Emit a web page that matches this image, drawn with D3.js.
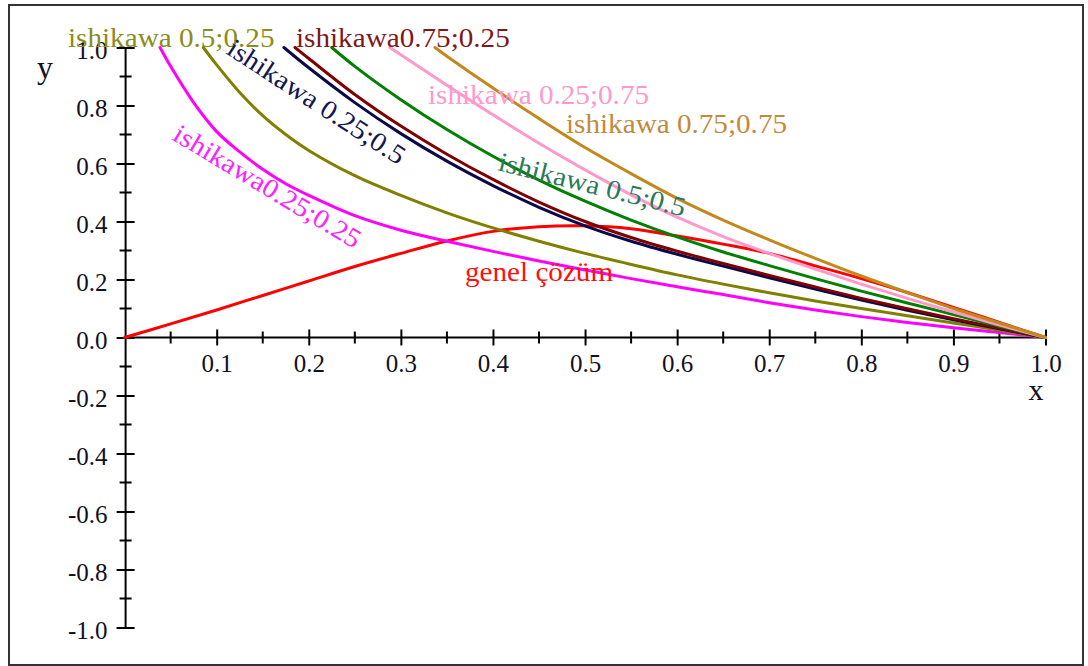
<!DOCTYPE html>
<html>
<head>
<meta charset="utf-8">
<script src="https://cdn.jsdelivr.net/npm/d3@7"></script>
<style>
  html, body { margin: 0; padding: 0; background: #fff; }
  svg { display: block; }
  text { font-family: "Liberation Serif", "Times New Roman", serif; }
</style>
</head>
<body>
<svg id="chart" width="1088" height="666"></svg>
<script>
// ---- data -------------------------------------------------------------
// genel çözüm
const genelX = [0, 0.05, 0.1, 0.15, 0.2, 0.25, 0.3, 0.35, 0.4, 0.45, 0.5, 0.55, 0.6, 0.65, 0.7, 0.75, 0.8, 0.85, 0.9, 0.95, 1.0];
const genelY = [0, 0.047, 0.095, 0.145, 0.195, 0.245, 0.29, 0.333, 0.366, 0.382, 0.385, 0.375, 0.35, 0.322, 0.29, 0.247, 0.203, 0.155, 0.104, 0.052, 0];

// ishikawa 0.25;0.25
const ishi2525X = [0.0385, 0.05, 0.075, 0.1, 0.125, 0.15, 0.175, 0.2, 0.25, 0.3, 0.35, 0.4, 0.45, 0.5, 0.55, 0.6, 0.65, 0.7, 0.75, 0.8, 0.85, 0.9, 0.95, 1.0];
const ishi2525Y = [1.0, 0.935, 0.81, 0.71, 0.64, 0.58, 0.53, 0.49, 0.42, 0.37, 0.332, 0.297, 0.264, 0.233, 0.203, 0.175, 0.148, 0.12, 0.095, 0.072, 0.052, 0.034, 0.017, 0];

// ishikawa 0.5;0.25
const ishi5025X = [0.0855, 0.1, 0.125, 0.15, 0.175, 0.2, 0.25, 0.3, 0.35, 0.4, 0.45, 0.5, 0.55, 0.6, 0.65, 0.7, 0.75, 0.8, 0.85, 0.9, 0.95, 1.0];
const ishi5025Y = [1.0, 0.94, 0.845, 0.765, 0.7, 0.645, 0.558, 0.49, 0.43, 0.378, 0.332, 0.29, 0.252, 0.216, 0.184, 0.154, 0.126, 0.1, 0.075, 0.05, 0.025, 0];

// ishikawa 0.25;0.5
const ishi2550X = [0.173, 0.2, 0.25, 0.3, 0.35, 0.4, 0.45, 0.5, 0.55, 0.6, 0.65, 0.7, 0.75, 0.8, 0.85, 0.9, 0.95, 1.0];
const ishi2550Y = [1.0, 0.93, 0.81, 0.703, 0.608, 0.524, 0.449, 0.385, 0.332, 0.287, 0.246, 0.206, 0.167, 0.129, 0.094, 0.061, 0.03, 0];

// ishikawa 0.75;0.25
const ishi7525X = [0.185, 0.2, 0.25, 0.3, 0.35, 0.4, 0.45, 0.5, 0.55, 0.6, 0.65, 0.7, 0.75, 0.8, 0.85, 0.9, 0.95, 1.0];
const ishi7525Y = [1.0, 0.962, 0.838, 0.729, 0.632, 0.545, 0.467, 0.4, 0.345, 0.298, 0.255, 0.214, 0.174, 0.135, 0.099, 0.065, 0.032, 0];

// ishikawa 0.5;0.5
const ishi5050X = [0.225, 0.25, 0.3, 0.35, 0.4, 0.45, 0.5, 0.55, 0.6, 0.65, 0.7, 0.75, 0.8, 0.85, 0.9, 0.95, 1.0];
const ishi5050Y = [1.0, 0.935, 0.82, 0.717, 0.625, 0.543, 0.47, 0.405, 0.347, 0.295, 0.248, 0.203, 0.16, 0.119, 0.079, 0.039, 0];

// ishikawa 0.25;0.75
const ishi2575X = [0.288, 0.3, 0.35, 0.4, 0.45, 0.5, 0.55, 0.6, 0.65, 0.7, 0.75, 0.8, 0.85, 0.9, 0.95, 1.0];
const ishi2575Y = [1.0, 0.975, 0.87, 0.768, 0.67, 0.578, 0.492, 0.415, 0.348, 0.29, 0.236, 0.184, 0.135, 0.088, 0.043, 0];

// ishikawa 0.75;0.75
const ishi7575X = [0.337, 0.35, 0.4, 0.45, 0.5, 0.55, 0.6, 0.65, 0.7, 0.75, 0.8, 0.85, 0.9, 0.95, 1.0];
const ishi7575Y = [1.0, 0.97, 0.86, 0.755, 0.655, 0.565, 0.48, 0.405, 0.337, 0.273, 0.212, 0.155, 0.1, 0.05, 0];

// tick labels
const xTickValues = [0.1, 0.2, 0.3, 0.4, 0.5, 0.6, 0.7, 0.8, 0.9, 1.0];
const xTickLabels = ["0.1", "0.2", "0.3", "0.4", "0.5", "0.6", "0.7", "0.8", "0.9", "1.0"];
const yTickValues = [1.0, 0.8, 0.6, 0.4, 0.2, 0.0, -0.2, -0.4, -0.6, -0.8, -1.0];
const yTickLabels = ["1.0", "0.8", "0.6", "0.4", "0.2", "0.0", "-0.2", "-0.4", "-0.6", "-0.8", "-1.0"];
const xMinorValues = [0.05, 0.15, 0.25, 0.35, 0.45, 0.55, 0.65, 0.75, 0.85, 0.95];
const yMinorValues = [0.9, 0.7, 0.5, 0.3, 0.1, -0.1, -0.3, -0.5, -0.7, -0.9];

// curve names
const curveNames = [
  "genel çözüm",
  "ishikawa0.25;0.25",
  "ishikawa 0.5;0.25",
  "ishikawa 0.25;0.5",
  "ishikawa0.75;0.25",
  "ishikawa 0.5;0.5",
  "ishikawa 0.25;0.75",
  "ishikawa 0.75;0.75"
];

// ---- drawing ----------------------------------------------------------
const svg = d3.select("#chart");

// outer frame
svg.append("rect")
  .attr("x", 9).attr("y", 5)
  .attr("width", 1074).attr("height", 660)
  .attr("fill", "none").attr("stroke", "#333").attr("stroke-width", 2);

const x = d3.scaleLinear().domain([0, 1]).range([124.6, 1045.5]);
const y = d3.scaleLinear().domain([-1, 1]).range([627.5, 47.5]);

const zip = (xs, ys) => xs.map((v, i) => [v, ys[i]]);
const series = [
  { name: curveNames[0], pts: zip(genelX, genelY),       line: "#ff0000" },
  { name: curveNames[1], pts: zip(ishi2525X, ishi2525Y), line: "#ff00ff" },
  { name: curveNames[2], pts: zip(ishi5025X, ishi5025Y), line: "#808000" },
  { name: curveNames[3], pts: zip(ishi2550X, ishi2550Y), line: "#0a0a4a" },
  { name: curveNames[4], pts: zip(ishi7525X, ishi7525Y), line: "#800000" },
  { name: curveNames[5], pts: zip(ishi5050X, ishi5050Y), line: "#008000" },
  { name: curveNames[6], pts: zip(ishi2575X, ishi2575Y), line: "#ff99cc" },
  { name: curveNames[7], pts: zip(ishi7575X, ishi7575Y), line: "#c4871c" }
];

// axes
const axisG = svg.append("g");
const xAxis = d3.axisBottom(x).tickValues(xTickValues).tickSize(8)
  .tickFormat((d, i) => xTickLabels[i]);
const xg = axisG.append("g").attr("transform", `translate(0,${y(0)})`).call(xAxis);
xg.select(".domain").attr("d", `M${x(0)},0H${x(1)}`).attr("stroke", "#000").attr("stroke-width", 2);
xg.selectAll(".tick line").attr("y1", -8).attr("y2", 8).attr("stroke", "#000").attr("stroke-width", 2);
xg.selectAll(".tick text")
  .attr("y", 34).attr("dy", null)
  .attr("font-size", 25).attr("fill", "#111122")
  .attr("font-family", "Liberation Serif, serif");
xg.selectAll(".minor").data(xMinorValues).enter().append("line")
  .attr("x1", d => x(d)).attr("x2", d => x(d))
  .attr("y1", -6).attr("y2", 6)
  .attr("stroke", "#000").attr("stroke-width", 2);

const yAxis = d3.axisLeft(y).tickValues(yTickValues).tickSize(9)
  .tickFormat((d, i) => yTickLabels[i]);
const yg = axisG.append("g").attr("transform", `translate(${x(0) + 1},0)`).call(yAxis);
yg.select(".domain").attr("d", `M0,${y(1)}V${y(-1)}`).attr("stroke", "#000").attr("stroke-width", 2);
yg.selectAll(".tick line").attr("x1", 9).attr("x2", -9).attr("stroke", "#000").attr("stroke-width", 2);
yg.selectAll(".tick text")
  .attr("x", -18).attr("dy", null).attr("y", 11)
  .attr("font-size", 25).attr("fill", "#111122")
  .attr("font-family", "Liberation Serif, serif");
yg.selectAll(".minor").data(yMinorValues).enter().append("line")
  .attr("y1", d => y(d)).attr("y2", d => y(d))
  .attr("x1", -6).attr("x2", 6)
  .attr("stroke", "#000").attr("stroke-width", 2);

// axis names
svg.append("text").attr("x", 45).attr("y", 78).attr("text-anchor", "middle")
  .attr("font-size", 32).attr("fill", "#111122").text("y");
svg.append("text").attr("x", 1036).attr("y", 400).attr("text-anchor", "middle")
  .attr("font-size", 30).attr("fill", "#111122").text("x");

// curves
const line = d3.line().x(d => x(d[0])).y(d => y(d[1])).curve(d3.curveCatmullRom.alpha(0.5));
svg.append("g").selectAll("path").data(series).enter().append("path")
  .attr("d", d => line(d.pts))
  .attr("fill", "none")
  .attr("stroke", d => d.line)
  .attr("stroke-width", 3)
  .attr("stroke-linecap", "round");

// curve labels
const labelG = svg.append("g").attr("font-size", 27);
function label(text, px, py, angle, color) {
  labelG.append("text")
    .attr("transform", `translate(${px},${py}) rotate(${angle}) scale(1.08,1)`)
    .attr("fill", color)
    .text(text);
}
label(curveNames[0], 465, 281, 0, "#ff1010");
label(curveNames[1], 171, 139, 31, "#ff22ff");
label(curveNames[2], 68, 47, 0, "#8c8c20");
label(curveNames[3], 225, 53, 33, "#151550");
label(curveNames[4], 296, 47, 0, "#801818");
label(curveNames[5], 497, 170, 14, "#2a7a5a");
label(curveNames[6], 428, 104, 0, "#ff99cc");
label(curveNames[7], 566, 133, 0, "#c48a3a");
</script>
</body>
</html>
